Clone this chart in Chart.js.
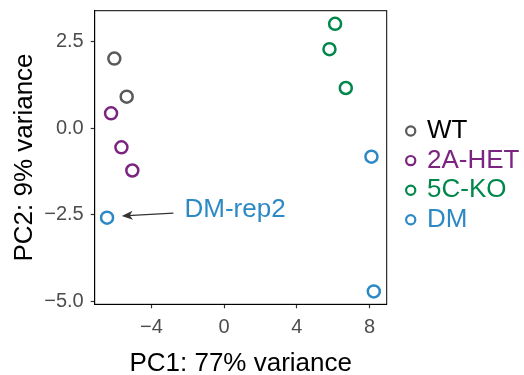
<!DOCTYPE html>
<html lang="en">
<head>
    <meta charset="UTF-8">
    <title>PCA plot</title>
    <script src="https://cdn.jsdelivr.net/npm/chart.js"></script>
    <style>
        body { margin: 0; background: #fff; }
        canvas { display: block; }
    </style>
</head>
<body>
    <canvas id="pca" width="524" height="375"></canvas>
    <script>
        // sample coordinates
        const groups = ['WT', '2A-HET', '5C-KO', 'DM'];
        const wtX = [-6.04, -5.36];
        const wtY = [2.01, 0.91];
        const hetX = [-6.22, -5.65, -5.05];
        const hetY = [0.43, -0.55, -1.22];
        const koX = [6.11, 5.80, 6.70];
        const koY = [3.01, 2.28, 1.16];
        const dmX = [8.11, -6.44, 8.24];
        const dmY = [-0.82, -2.58, -4.71];

        const xTicks = [-4, 0, 4, 8];
        const yTicks = [-5, -2.5, 0, 2.5];

        // label for the outlier sample
        const noteText = 'DM-rep2';
        const noteAt = [-2.18, -2.36];
        const arrowFrom = [-2.79, -2.45];
        const arrowTo = [-5.63, -2.53];

        const colors = ['#595959', '#7b2581', '#00874a', '#2c89c5'];
        const textColors = ['#000000', '#7b2581', '#00874a', '#2c89c5'];
        const FONT = '"Liberation Sans", Arial, sans-serif';

        const toPts = (xs, ys) => xs.map((x, i) => ({ x: x, y: ys[i] }));
        const series = [toPts(wtX, wtY), toPts(hetX, hetY), toPts(koX, koY), toPts(dmX, dmY)];

        const fmt = (v, digits) => {
            const s = Math.abs(v).toFixed(digits);
            return v < 0 ? '\u2212' + s : s;
        };

        // box around the panel, arrow + note, and the legend on the right
        const extras = {
            id: 'extras',
            afterDraw(chart) {
                const { ctx, chartArea: a, scales: { x, y } } = chart;
                ctx.save();
                ctx.strokeStyle = '#000';
                ctx.lineWidth = 1;
                ctx.strokeRect(a.left, a.top, a.right - a.left, a.bottom - a.top);

                // arrow
                const x1 = x.getPixelForValue(arrowFrom[0]), y1 = y.getPixelForValue(arrowFrom[1]);
                const x2 = x.getPixelForValue(arrowTo[0]), y2 = y.getPixelForValue(arrowTo[1]);
                const ang = Math.atan2(y2 - y1, x2 - x1);
                ctx.strokeStyle = '#333';
                ctx.fillStyle = '#333';
                ctx.lineWidth = 1.3;
                ctx.beginPath();
                ctx.moveTo(x1, y1);
                ctx.lineTo(x2 - 6 * Math.cos(ang), y2 - 6 * Math.sin(ang));
                ctx.stroke();
                ctx.beginPath();
                ctx.moveTo(x2, y2);
                ctx.lineTo(x2 - 11 * Math.cos(ang) + 4.5 * Math.sin(ang), y2 - 11 * Math.sin(ang) - 4.5 * Math.cos(ang));
                ctx.lineTo(x2 - 8 * Math.cos(ang), y2 - 8 * Math.sin(ang));
                ctx.lineTo(x2 - 11 * Math.cos(ang) - 4.5 * Math.sin(ang), y2 - 11 * Math.sin(ang) + 4.5 * Math.cos(ang));
                ctx.closePath();
                ctx.fill();

                // note text
                ctx.font = '26px ' + FONT;
                ctx.fillStyle = colors[3];
                ctx.textAlign = 'left';
                ctx.textBaseline = 'middle';
                ctx.fillText(noteText, x.getPixelForValue(noteAt[0]), y.getPixelForValue(noteAt[1]));

                // legend
                groups.forEach((g, i) => {
                    const cy = 131 + i * 29.6;
                    ctx.beginPath();
                    ctx.arc(410.7, cy, 4.6, 0, Math.PI * 2);
                    ctx.strokeStyle = colors[i];
                    ctx.lineWidth = 2.2;
                    ctx.stroke();
                    ctx.fillStyle = textColors[i];
                    ctx.fillText(g, 427, cy);
                });
                ctx.restore();
            }
        };

        new Chart(document.getElementById('pca').getContext('2d'), {
            type: 'scatter',
            data: {
                datasets: groups.map((g, i) => ({
                    label: g,
                    data: series[i],
                    borderColor: colors[i],
                    backgroundColor: 'rgba(0,0,0,0)',
                    pointRadius: 6,
                    pointHoverRadius: 6,
                    pointBorderWidth: 2.5,
                    clip: false
                }))
            },
            options: {
                responsive: false,
                animation: false,
                devicePixelRatio: 1,
                layout: { padding: { top: 10.7, right: 137.3, left: 0, bottom: 0 } },
                plugins: {
                    legend: { display: false },
                    tooltip: { enabled: false }
                },
                scales: {
                    x: {
                        type: 'linear',
                        min: -7.12,
                        max: 8.95,
                        afterBuildTicks: axis => { axis.ticks = xTicks.map(v => ({ value: v })); },
                        afterFit: axis => {
                            axis.height = 70.7;
                            axis.paddingLeft = 0;
                            axis.paddingRight = 0;
                        },
                        grid: { drawOnChartArea: false, drawTicks: true, tickLength: 4, color: '#333', tickWidth: 1.2 },
                        border: { display: true, color: '#000', width: 1 },
                        ticks: {
                            padding: 7,
                            color: '#4d4d4d',
                            font: { family: FONT, size: 20 },
                            callback: v => fmt(v, 0)
                        },
                        title: {
                            display: true,
                            text: 'PC1: 77% variance',
                            color: '#000',
                            font: { family: FONT, size: 26, lineHeight: 1.2 },
                            padding: { top: 0, bottom: -4 }
                        }
                    },
                    y: {
                        type: 'linear',
                        min: -5.08,
                        max: 3.39,
                        afterBuildTicks: axis => { axis.ticks = yTicks.map(v => ({ value: v })); },
                        afterFit: axis => {
                            axis.width = 94.7;
                            axis.paddingTop = 0;
                            axis.paddingBottom = 0;
                        },
                        grid: { drawOnChartArea: false, drawTicks: true, tickLength: 4, color: '#333', tickWidth: 1.2 },
                        border: { display: true, color: '#000', width: 1 },
                        ticks: {
                            padding: 7,
                            color: '#4d4d4d',
                            font: { family: FONT, size: 20 },
                            callback: v => fmt(v, 1)
                        },
                        title: {
                            display: true,
                            text: 'PC2: 9% variance',
                            color: '#000',
                            font: { family: FONT, size: 26, lineHeight: 1.2 },
                            padding: { top: 9, bottom: 0 }
                        }
                    }
                }
            },
            plugins: [extras]
        });
    </script>
</body>
</html>
